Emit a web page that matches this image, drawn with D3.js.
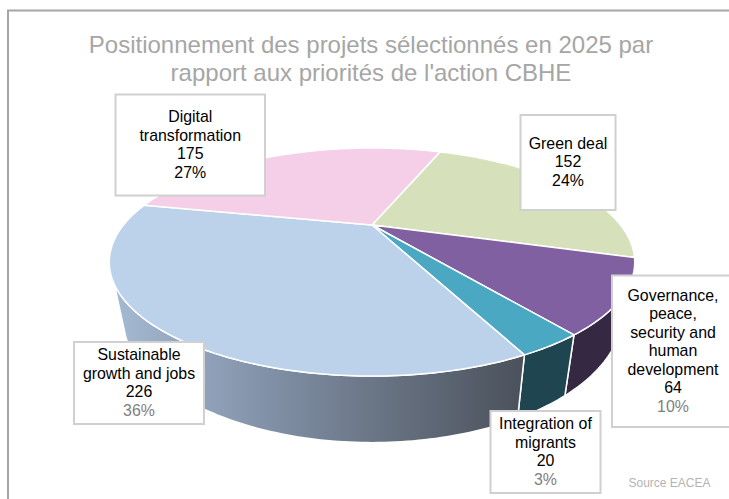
<!DOCTYPE html>
<html lang="fr">
<head>
<meta charset="utf-8">
<title>CBHE 2025</title>
<script src="https://d3js.org/d3.v7.min.js"></script>
<style>
  html, body { margin: 0; padding: 0; background: #fff; overflow: hidden; }
  text { font-family: "Liberation Sans", Arial, sans-serif; }
</style>
</head>
<body>
<div id="chart"></div>
<script>
const width = 729;
const height = 499;

// slices, clockwise from the pink/green boundary
const categories = ["Green deal", "Governance, peace, security and human development", "Integration of migrants", "Sustainable growth and jobs", "Digital transformation"];
const values = [152, 64, 20, 226, 175];
const percents = ["24%", "10%", "3%", "36%", "27%"];
const labelLines = [
  ["Green deal"],
  ["Governance,", "peace,", "security and", "human", "development"],
  ["Integration of", "migrants"],
  ["Sustainable", "growth and jobs"],
  ["Digital", "transformation"]
];
const titleLines = ["Positionnement des projets sélectionnés en 2025 par", "rapport aux priorités de l'action CBHE"];
const sourceText = "Source EACEA";

const topColors = ["#d6e1bc", "#8060a0", "#4aa8c3", "#bcd2ea", "#f4cfe7"];
const wallColors = ["#6b7060", "#352843", "#1f4650", "url(#wallGrad)", "#7a6873"];
const percentColors = ["#000", "#7f7f7f", "#7f7f7f", "#7f7f7f", "#000"];
// x, y, w, h of the label boxes
const boxes = [
  [520.5, 115, 95, 95],
  [612, 275.5, 122, 151.5],
  [490.5, 411, 110, 82],
  [74, 342, 130, 82],
  [115.5, 94.5, 149.5, 101]
];

const cx = 372, cy = 225;
const A = 248.5, B = 102, k = 0.3246;   // perspective of the pie plane
const depth = 45, shrink = 0.955;       // side wall
const start = 20.9 * Math.PI / 180;
const wallFrom = 119.3 * Math.PI / 180, wallTo = 240.7 * Math.PI / 180;

const svg = d3.select("#chart").append("svg")
  .attr("width", width)
  .attr("height", height)
  .style("display", "block");

const grad = svg.append("defs").append("linearGradient")
  .attr("id", "wallGrad")
  .attr("gradientUnits", "userSpaceOnUse")
  .attr("x1", 110).attr("x2", 525).attr("y1", 0).attr("y2", 0);
grad.append("stop").attr("offset", "0%").attr("stop-color", "#a6bad3");
grad.append("stop").attr("offset", "35%").attr("stop-color", "#8494ab");
grad.append("stop").attr("offset", "65%").attr("stop-color", "#697484");
grad.append("stop").attr("offset", "100%").attr("stop-color", "#4a515b");

// frame runs off the page on the right and at the bottom
svg.append("rect")
  .attr("x", 8).attr("y", 10.5)
  .attr("width", width + 20).attr("height", height + 20)
  .attr("fill", "#fff").attr("stroke", "#a6a6a6").attr("stroke-width", 2);

function top3d(a) {
  const u = Math.sin(a), v = -Math.cos(a), w = 1 - k * v;
  return [cx + A * u / w, cy + B * v / w];
}
function low3d(a) {
  const p = top3d(a), v = -Math.cos(a), w = 1 - k * v;
  return [cx + (p[0] - cx) * shrink, p[1] + depth / w];
}
function arcAngles(a0, a1) {
  const n = Math.max(2, Math.ceil((a1 - a0) * 60));
  return d3.range(n + 1).map(i => a0 + (a1 - a0) * i / n);
}

const line = d3.line();
const pie = d3.pie().sort(null).startAngle(start).endAngle(start + 2 * Math.PI);
const slices = pie(values).map((d, i) => ({ ...d, i: i }));

// side walls
svg.append("g").selectAll("path")
  .data(slices.filter(d => d.endAngle > wallFrom && d.startAngle < wallTo))
  .enter().append("path")
  .attr("d", d => {
    const as = arcAngles(Math.max(d.startAngle, wallFrom), Math.min(d.endAngle, wallTo));
    return line(as.map(top3d).concat(as.slice().reverse().map(low3d))) + "Z";
  })
  .attr("fill", d => wallColors[d.i])
  .attr("stroke", "#fff")
  .attr("stroke-width", 1.5)
  .attr("stroke-linejoin", "round");

// top faces
svg.append("g").selectAll("path")
  .data(slices)
  .enter().append("path")
  .attr("d", d => line([[cx, cy]].concat(arcAngles(d.startAngle, d.endAngle).map(top3d))) + "Z")
  .attr("fill", d => topColors[d.i])
  .attr("stroke", "#fff")
  .attr("stroke-width", 1.5)
  .attr("stroke-linejoin", "round");

// title
svg.append("g").selectAll("text")
  .data(titleLines)
  .enter().append("text")
  .attr("x", 371)
  .attr("y", (d, i) => 53 + i * 28)
  .attr("text-anchor", "middle")
  .attr("font-size", 24)
  .attr("fill", "#a6a6a6")
  .text(d => d);

// label boxes
const labelH = 18.5;
const labels = svg.append("g").selectAll("g")
  .data(slices)
  .enter().append("g");

labels.append("rect")
  .attr("x", d => boxes[d.i][0])
  .attr("y", d => boxes[d.i][1])
  .attr("width", d => boxes[d.i][2])
  .attr("height", d => boxes[d.i][3])
  .attr("fill", "#fff")
  .attr("stroke", "#d0d0d0")
  .attr("stroke-width", 2);

labels.each(function(d) {
  const rows = labelLines[d.i].concat([String(d.value), percents[d.i]]);
  const b = boxes[d.i];
  const textX = b[0] + b[2] / 2;
  const firstY = b[1] + b[3] / 2 - (rows.length * labelH) / 2 + 14;
  d3.select(this).selectAll("text")
    .data(rows)
    .enter().append("text")
    .attr("x", textX)
    .attr("y", (r, j) => firstY + j * labelH)
    .attr("text-anchor", "middle")
    .attr("font-size", 15.9)
    .attr("fill", (r, j) => j === rows.length - 1 ? percentColors[d.i] : "#000")
    .text(r => r);
});

svg.append("text")
  .attr("x", 669.5).attr("y", 487)
  .attr("text-anchor", "middle")
  .attr("font-size", 12)
  .attr("fill", "#b3b3b3")
  .text(sourceText);
</script>
</body>
</html>
